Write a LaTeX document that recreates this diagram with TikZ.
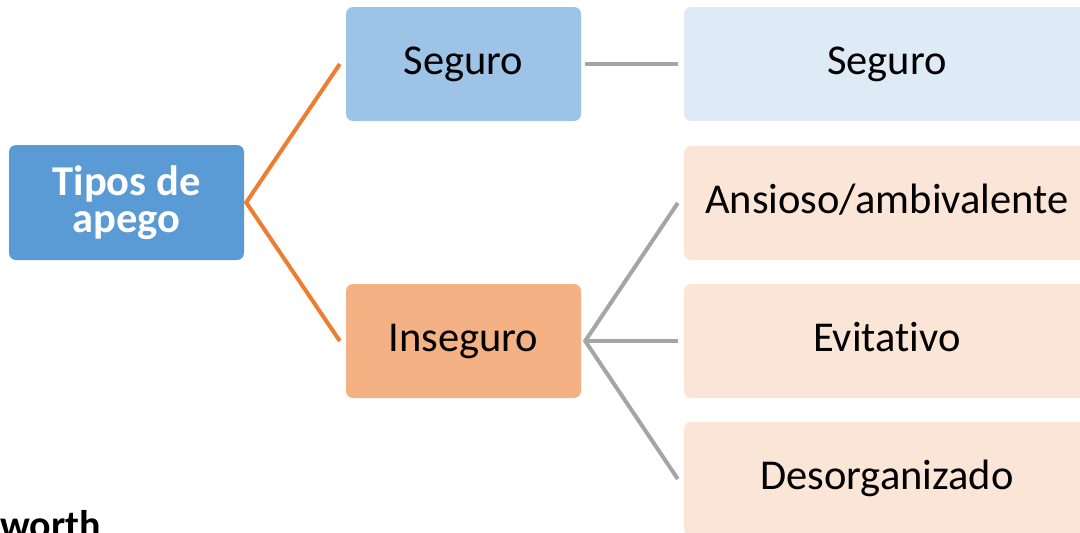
\documentclass[tikz,border=0pt]{standalone}
\usepackage{fontspec}
\setmainfont[Ligatures=NoCommon]{Carlito}
\definecolor{cTipos}{HTML}{5B9BD5}
\definecolor{cSeg}{HTML}{9DC3E6}
\definecolor{cInseg}{HTML}{F4B183}
\definecolor{cSegL}{HTML}{DEEBF7}
\definecolor{cInsegL}{HTML}{FBE5D6}
\definecolor{cOrange}{HTML}{ED7D31}
\definecolor{cGray}{HTML}{A5A5A5}
\tikzset{
  box/.style={rectangle, rounded corners=7pt, minimum height=114pt, inner sep=0pt, align=center,
    font=\fontsize{42.5}{37.3}\selectfont},
  oneline/.style={text height=32pt, text depth=10.6pt},
  midbox/.style={box, minimum width=235pt},
  rightbox/.style={box, oneline, minimum width=406pt},
  orangeline/.style={draw=cOrange, line width=4pt},
  grayline/.style={draw=cGray, line width=4pt},
}
\begin{document}
\begin{tikzpicture}[x=1pt,y=-1pt]
\useasboundingbox (0,0) rectangle (1080,533);
\clip (0,0) rectangle (1080,533);
\node[midbox, fill=cTipos, text=white, minimum height=115pt, font=\fontsize{42.5}{37.3}\selectfont\bfseries] (tipos) at (126.5,202.5) {Tipos de\\apego};
\node[midbox, oneline, fill=cSeg] (seg) at (463.5,64) {Seguro};
\node[midbox, oneline, fill=cInseg] (inseg) at (463.5,341) {Inseguro};
\node[rightbox, fill=cSegL] (rseg) at (887,64) {Seguro};
\node[rightbox, fill=cInsegL] (ans) at (887,203) {Ansioso/ambivalente};
\node[rightbox, fill=cInsegL] (evi) at (887,341) {Evitativo};
\node[rightbox, fill=cInsegL] (des) at (887,479) {Desorganizado};
\draw[orangeline, line join=miter] ([xshift=-6pt]seg.west) -- ([xshift=2pt]tipos.east) -- ([xshift=-6pt]inseg.west);
\draw[grayline] ([xshift=4pt]seg.east) -- ([xshift=-6pt]rseg.west);
\draw[grayline] ([xshift=-6pt]ans.west) -- ([xshift=4pt]inseg.east) -- ([xshift=-6pt]des.west);
\draw[grayline] ([xshift=4pt]inseg.east) -- ([xshift=-6pt]evi.west);
\node[anchor=base west, inner sep=0pt, font=\fontsize{40}{40}\selectfont\bfseries] (worth) at (0,538) {worth};
\end{tikzpicture}
\end{document}
